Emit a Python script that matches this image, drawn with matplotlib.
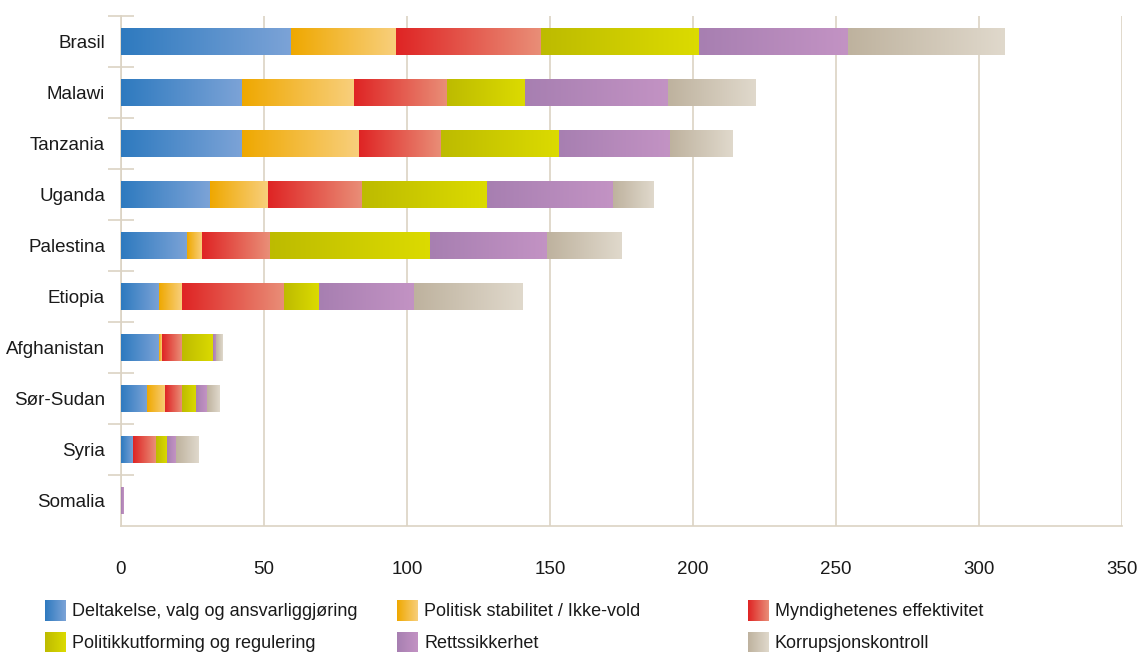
import matplotlib.pyplot as plt
import numpy as np
from matplotlib.colors import LinearSegmentedColormap

plt.rcParams['font.family'] = ['Liberation Sans', 'DejaVu Sans']

countries = ['Brasil', 'Malawi', 'Tanzania', 'Uganda', 'Palestina',
             'Etiopia', 'Afghanistan', 'Sør-Sudan', 'Syria', 'Somalia']
series = ['Deltakelse, valg og ansvarliggjøring', 'Politisk stabilitet / Ikke-vold',
          'Myndighetenes effektivitet', 'Politikkutforming og regulering',
          'Rettssikkerhet', 'Korrupsjonskontroll']

deltakelse = [59.4, 42.2, 42.2, 31.1, 23.1, 13.3, 13.3, 9.1, 4.2, 0]
stabilitet = [36.6, 39.1, 40.9, 20.2, 5.2, 8.0, 1.0, 6.3, 0, 0]
effektivitet = [51.0, 32.7, 28.8, 32.9, 23.7, 35.7, 6.9, 5.9, 7.9, 0]
regulering = [55.2, 27.1, 41.4, 43.7, 55.9, 12.2, 10.9, 4.9, 4.0, 0]
rettssikkerhet = [52.1, 50.3, 38.8, 44.3, 41.2, 33.1, 1.1, 3.8, 3.1, 1.0]
korrupsjon = [54.8, 30.7, 22.0, 14.0, 26.2, 37.8, 2.1, 4.2, 8.0, 0]

xticks = [0, 50, 100, 150, 200, 250, 300, 350]

# gradient (dark -> light) per series
grads = [('#2e7abf', '#7ca3d7'),
         ('#efa800', '#f8cf7c'),
         ('#df2424', '#e98f78'),
         ('#bdbb00', '#dcdb00'),
         ('#a77fb1', '#c393c4'),
         ('#beb29e', '#e0d9cc')]
grid_col = '#dcd3c4'

fig = plt.figure(figsize=(11.41, 6.52), dpi=100)
ax = fig.add_axes([121 / 1141, 1 - 526 / 652, (1122 - 121) / 1141, (526 - 16) / 652])

data = [deltakelse, stabilitet, effektivitet, regulering, rettssikkerhet, korrupsjon]
y = np.arange(len(countries))
left = np.zeros(len(countries))
grad_img = np.linspace(0, 1, 256).reshape(1, -1)
for vals, (c0, c1) in zip(data, grads):
    cmap = LinearSegmentedColormap.from_list('g', [c0, c1])
    bars = ax.barh(y, vals, left=left, height=0.51, color='none', zorder=3)
    for b in bars:
        if b.get_width() <= 0:
            continue
        x0, y0 = b.get_x(), b.get_y()
        ax.imshow(grad_img, cmap=cmap, aspect='auto', zorder=3,
                  extent=[x0, x0 + b.get_width(), y0 + b.get_height(), y0])
    left += np.array(vals)

ax.set_xlim(0, 350)
ax.set_ylim(len(countries) - 0.5, -0.5)
ax.set_xticks(xticks)
ax.set_xticklabels([str(t) for t in xticks], fontsize=13.5, color='#1a1a1a')
ax.set_yticks(np.arange(len(countries)) - 0.5)
ax.set_yticklabels([])
ax.set_yticks(y, minor=True)
ax.set_yticklabels(countries, minor=True, fontsize=13.5, color='#1a1a1a')
ax.tick_params(axis='y', which='major', direction='inout', length=19, width=1.2, color=grid_col)
ax.tick_params(axis='y', which='minor', length=0, pad=11.5)
ax.tick_params(axis='x', length=0, pad=25)
ax.grid(axis='x', color=grid_col, linewidth=1.2, zorder=1)
for s in ['top', 'right']:
    ax.spines[s].set_visible(False)
for s in ['left', 'bottom']:
    ax.spines[s].set_color(grid_col)
    ax.spines[s].set_linewidth(1.2)

# legend
lax = fig.add_axes([0, 0, 1, 1], zorder=-1)
lax.axis('off')
col_x = [45, 397, 748]
row_y = [611, 643]
for i, (name, (c0, c1)) in enumerate(zip(series, grads)):
    cx = col_x[i % 3]
    cy = row_y[i // 3]
    cmap = LinearSegmentedColormap.from_list('g', [c0, c1])
    lax.imshow(grad_img, cmap=cmap, aspect='auto', extent=[cx, cx + 21, cy + 10.5, cy - 10.5])
    lax.text(cx + 27, cy, name, fontsize=13, va='center', ha='left', color='#1a1a1a')
lax.set_xlim(0, 1141)
lax.set_ylim(652, 0)

fig.savefig('out.png', dpi=100)
